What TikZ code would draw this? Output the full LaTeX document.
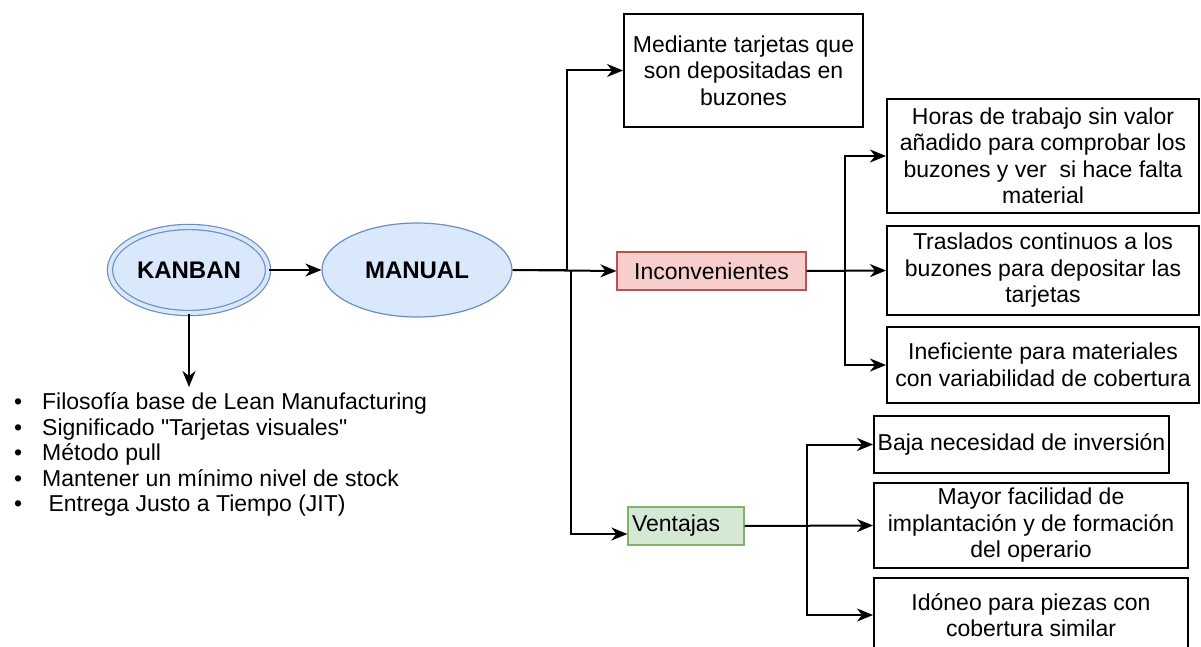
\documentclass[tikz,border=0pt]{standalone}
\usepackage{fontspec}
\setmainfont{Liberation Sans}
\usetikzlibrary{arrows.meta,shapes.geometric,positioning}

\definecolor{bluefill}{HTML}{DAE8FC}
\definecolor{blueline}{HTML}{6C8EBF}
\definecolor{redfill}{HTML}{F8CECC}
\definecolor{redline}{HTML}{B85450}
\definecolor{greenfill}{HTML}{D5E8D4}
\definecolor{greenline}{HTML}{82B366}

\begin{document}
\begin{tikzpicture}[
    x=1pt,y=-1pt,
    font=\fontsize{23}{26.5}\selectfont,
    conn/.style={line width=2pt,-{Stealth[length=16pt,width=13pt,inset=5pt]}},
    textbox/.style={draw,line width=2pt,align=center,inner sep=2pt},
    oval/.style={ellipse,draw=blueline,fill=bluefill,line width=1.2pt,
      font=\fontsize{24}{28}\selectfont\bfseries},
    tag/.style={rectangle,line width=1.2pt,minimum height=38pt,inner sep=4pt}
  ]
  \useasboundingbox (0,0) rectangle (1201,647);
  \clip (0,0) rectangle (1201,647);
  % ovals
  \node [oval,double=bluefill,double distance=4pt,
    minimum width=158pt,minimum height=86pt]
    (kanban) at (189,270) {KANBAN};
  \node [oval,minimum width=190pt,minimum height=94pt]
    (manual) at (417,270) {MANUAL};
  % boxes
  \node [textbox,minimum width=239pt,minimum height=113pt]
    (tarjetas) at (743.5,70.5)
    {Mediante tarjetas que\\son depositadas en\\buzones};
  \node [tag,draw=redline,fill=redfill,minimum width=189pt]
    (inconv) at (711.5,271) {Inconvenientes};
  \node [textbox,minimum width=312pt,minimum height=114pt]
    (horas) at (1043,156)
    {Horas de trabajo sin valor\\a\~nadido para comprobar los\\buzones y ver\ \ si hace falta\\material};
  \node [textbox,minimum width=312pt,minimum height=89pt]
    (traslados) at (1043,270.5)
    {Traslados continuos a los\\buzones para depositar las\\tarjetas};
  \node [textbox,minimum width=312pt,minimum height=76pt]
    (ineficiente) at (1043,365)
    {Ineficiente para materiales\\con variabilidad de cobertura};
  \node [tag,draw=greenline,fill=greenfill,text width=108pt,align=left]
    (ventajas) at (686,526) {Ventajas};
  \node [textbox,minimum width=295pt,minimum height=57pt]
    (baja) at (1021.5,444.5) {Baja necesidad de inversión};
  \node [textbox,minimum width=314pt,minimum height=85pt]
    (mayor) at (1031,525.5)
    {Mayor facilidad de\\implantación y de formación\\del operario};
  \node [textbox,minimum width=314pt,minimum height=74pt]
    (idoneo) at (1031,615)
    {Idóneo para piezas con\\cobertura similar};
  % list
  \foreach \entry [count=\i] in {Filosofía base de Lean Manufacturing,
      Significado \textquotedbl Tarjetas visuales\textquotedbl,Método pull,
      Mantener un mínimo nivel de stock,\ Entrega Justo a Tiempo (JIT)}
    \node [anchor=base west,inner sep=0pt] (item\i) at (14,384+25.5*\i)
      {\makebox[28pt][l]{\textbullet}\entry};
  % connectors
  \coordinate (fork1) at (567,270);
  \coordinate (fork2) at (571,270);
  \coordinate (fork3) at (845,271);
  \coordinate (fork4) at (807,526);
  \coordinate (listtop) at (189,387);
  \draw [conn] (kanban) -- (manual);
  \draw [conn] (kanban.south) -- (listtop);
  \draw [conn] (manual.east) -- (fork1) |- (tarjetas.west);
  \draw [conn] (manual.east) -- (inconv.west);
  \draw [conn] (fork2) |- ([yshift=-8pt]ventajas.west);
  \draw [conn] (inconv.east) -- (fork3) |- (horas.west);
  \draw [conn] (inconv.east) -- (traslados.west);
  \draw [conn] (fork3) |- (ineficiente.west);
  \draw [conn] (ventajas.east) -- (fork4) |- (baja.west);
  \draw [conn] (ventajas.east) -- (mayor.west);
  \draw [conn] (fork4) |- (idoneo.west);
\end{tikzpicture}
\end{document}
